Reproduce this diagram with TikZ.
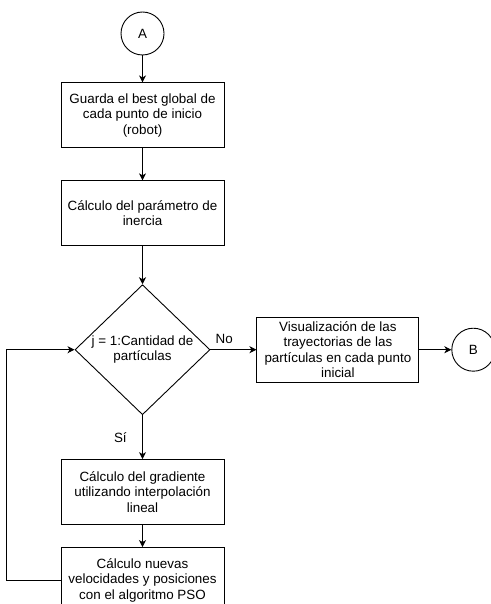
\documentclass[tikz,border=0pt]{standalone}
\usepackage{fontspec}
\setmainfont{Liberation Sans}
\usepackage{tikz}
\usetikzlibrary{
  positioning,
  shapes.geometric,
  arrows.meta,
  arrows
}

\tikzset{
  proceso/.style={draw, rectangle, minimum width=163pt, minimum height=65pt,
    align=center, inner sep=2pt},
  decision/.style={draw, diamond, aspect=1.04, minimum width=135pt,
    minimum height=130pt, align=center, inner sep=0pt},
  conector/.style={draw, circle, minimum size=43pt, inner sep=0pt}
}

\begin{document}
\begin{tikzpicture}[x=1pt,y=-1pt,node distance=32pt,auto,
    >={Stealth[length=7pt,width=7pt,inset=2pt]},line width=0.9pt,
    font=\fontsize{13.4}{15.5}\selectfont]
    \useasboundingbox (0,0) rectangle (490,604);

        \node[conector] (A) at (142.5,33.5) {A};
        \node[proceso, below=27pt of A] (guarda)
            {Guarda el best global de\\cada punto de inicio\\(robot)};
        \node[proceso, below=of guarda] (inercia)
            {Cálculo del parámetro de\\inercia};
        \node[decision, below=38pt of inercia] (ciclo)
            {j = 1:Cantidad de\\partículas};
        \node[proceso, right=46pt of ciclo, minimum width=162pt] (visual)
            {Visualización de las\\trayectorias de las\\partículas en cada punto\\inicial};
        \node[conector, right=of visual] (B) {B};
        \node[proceso, below=44pt of ciclo] (gradiente)
            {Cálculo del gradiente\\utilizando interpolación\\lineal};
        \node[proceso, below=22pt of gradiente] (pso)
            {Cálculo nuevas\\velocidades y posiciones\\con el algoritmo PSO};

        \draw[->] (A) -- (guarda);
        \draw[->] (guarda) -- (inercia);
        \draw[->] (inercia) -- (ciclo);
        \draw[->] (ciclo) -- (visual)
            node[pos=0.3,above=2pt] {No};
        \draw[->] (visual) -- (B);
        \draw[->] (ciclo) -- (gradiente)
            node[midway,left=12pt] {Sí};
        \draw[->] (gradiente) -- (pso);
        % regreso al inicio del ciclo
        \draw[->] (pso.west) -- ++(-54,0) |- (ciclo.west);
    \end{tikzpicture}
\end{document}
